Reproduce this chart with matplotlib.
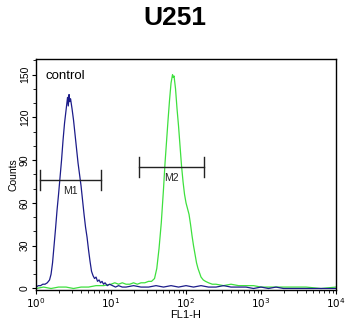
import matplotlib
matplotlib.use("Agg")
import matplotlib.pyplot as plt
import numpy as np
from matplotlib.ticker import LogLocator, MultipleLocator, NullFormatter

plt.rcParams['font.family'] = ['Liberation Sans', 'DejaVu Sans']

# control (blue) histogram: log10(FL1-H) channel position and counts
blue_log = [0.00, 0.03, 0.06, 0.09, 0.12, 0.15, 0.18, 0.20, 0.22, 0.24, 0.26, 0.28, 0.30, 0.32,
            0.34, 0.36, 0.38, 0.40, 0.42, 0.43, 0.44, 0.45, 0.46, 0.48, 0.50, 0.52, 0.54, 0.56,
            0.58, 0.60, 0.62, 0.64, 0.66, 0.68, 0.70, 0.72, 0.74, 0.76, 0.78, 0.80, 0.82, 0.84,
            0.86, 0.88, 0.90, 0.92, 0.95, 0.98, 1.02, 1.06, 1.10, 1.15, 1.20, 1.30, 1.40, 1.50,
            1.60, 1.70, 1.80, 1.90, 2.00, 2.10, 2.20, 2.30, 2.40, 2.50, 2.60, 2.70, 2.80, 2.90,
            3.00, 3.10, 3.20, 3.30, 3.40, 4.00]
blue_counts = [1, 2, 2, 3, 3, 4, 6, 10, 18, 30, 42, 55, 66, 78,
               90, 104, 116, 125, 134, 128, 136, 131, 133, 126, 118, 108, 98, 88,
               80, 72, 62, 52, 43, 36, 27, 19, 12, 9, 7, 8, 5, 6,
               4, 5, 3, 4, 2, 3, 2, 1, 2, 1, 1, 2, 1, 1,
               2, 1, 2, 1, 2, 1, 2, 1, 1, 2, 1, 1, 1, 0,
               1, 0, 1, 0, 0, 0]

# sample (green) histogram
green_log = [0.00, 0.10, 0.20, 0.30, 0.40, 0.50, 0.60, 0.70, 0.80, 0.90, 1.00, 1.05, 1.10, 1.15,
             1.20, 1.25, 1.30, 1.35, 1.40, 1.45, 1.50, 1.54, 1.58, 1.61, 1.64, 1.67, 1.70, 1.72,
             1.74, 1.76, 1.78, 1.80, 1.82, 1.83, 1.84, 1.86, 1.88, 1.90, 1.92, 1.94, 1.96, 1.98,
             2.00, 2.02, 2.04, 2.06, 2.08, 2.10, 2.12, 2.14, 2.16, 2.18, 2.20, 2.23, 2.26, 2.30,
             2.35, 2.40, 2.50, 2.60, 2.70, 2.80, 2.90, 3.00, 3.20, 3.40, 3.60, 3.80, 4.00]
green_counts = [0, 1, 0, 1, 1, 0, 1, 1, 2, 2, 3, 4, 3, 4,
                3, 3, 4, 3, 4, 4, 5, 5, 7, 14, 28, 46, 70, 88,
                103, 118, 132, 144, 150, 148, 149, 140, 126, 114, 100, 86, 75, 66,
                60, 56, 52, 45, 37, 30, 24, 18, 14, 11, 8, 6, 5, 4,
                3, 3, 2, 3, 2, 2, 2, 1, 1, 1, 1, 0, 1]

# gate markers
marker_names = ['M1', 'M2']
marker_lo_log = [0.05, 1.37]
marker_hi_log = [0.87, 2.24]
marker_level = [76, 85]

x_ticks = [1, 10, 100, 1000, 10000]
x_tick_labels = [r'$10^0$', r'$10^1$', r'$10^2$', r'$10^3$', r'$10^4$']
y_ticks = [0, 30, 60, 90, 120, 150]

fig = plt.figure(figsize=(3.5, 3.2), dpi=100)
ax = fig.add_axes([0.103, 0.094, 0.857, 0.722])

ax.plot(10 ** np.array(green_log), green_counts, color='#3ee03e', lw=0.9)
ax.plot(10 ** np.array(blue_log), blue_counts, color='#1c1c8a', lw=0.9)

for name, lo, hi, lev in zip(marker_names, marker_lo_log, marker_hi_log, marker_level):
    x0, x1 = 10 ** lo, 10 ** hi
    ax.plot([x0, x1], [lev, lev], color='#222222', lw=1.0)
    ax.plot([x0, x0], [lev - 7, lev + 7], color='#222222', lw=1.0)
    ax.plot([x1, x1], [lev - 7, lev + 7], color='#222222', lw=1.0)
    xm = 10 ** ((lo + hi) / 2)
    ax.text(xm, lev - 4, name, ha='center', va='top', fontsize=7.5, color='#222222')

ax.set_xscale('log')
ax.set_xlim(1, 10000)
ax.set_ylim(-1, 161)
ax.set_xticks(x_ticks)
ax.set_xticklabels(x_tick_labels, fontsize=7.5)
ax.xaxis.set_minor_locator(LogLocator(base=10, subs=np.arange(2, 10)))
ax.xaxis.set_minor_formatter(NullFormatter())
ax.set_yticks(y_ticks)
ax.set_yticklabels([str(v) for v in y_ticks], fontsize=7.5, rotation=90, va='center')
ax.yaxis.set_minor_locator(MultipleLocator(10))
ax.tick_params(axis='both', which='major', direction='out', length=3, width=0.8, pad=1.5)
ax.tick_params(axis='both', which='minor', direction='out', length=2, width=0.6)
for s in ax.spines.values():
    s.set_linewidth(1.0)
ax.set_xlabel('FL1-H', fontsize=8, labelpad=0)
ax.set_ylabel('Counts', fontsize=7.5, labelpad=1)
ax.text(0.03, 0.95, 'control', transform=ax.transAxes, fontsize=9.5, ha='left', va='top')
fig.text(0.5, 0.945, 'U251', ha='center', va='center', fontsize=19, fontweight='bold')

fig.savefig('out.png', dpi=100)
